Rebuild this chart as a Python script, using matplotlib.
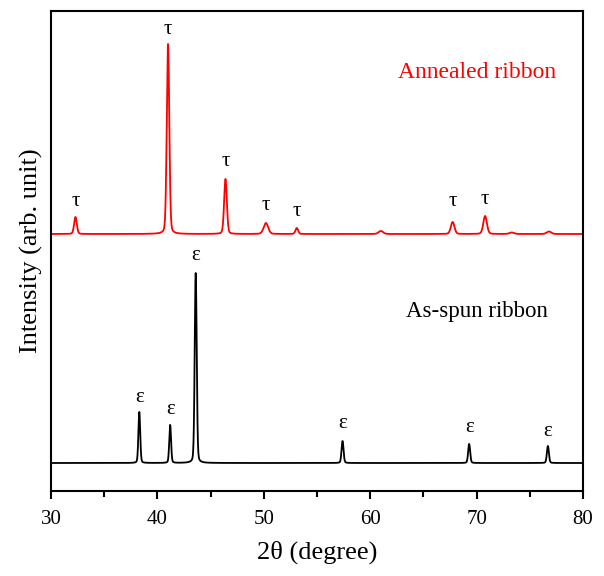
import numpy as np
from matplotlib import pyplot as plt
from matplotlib.ticker import MultipleLocator

plt.rcParams['font.family'] = ['Liberation Serif', 'DejaVu Serif']

# peak lists (2theta, height above baseline, fwhm)
annealed_pos = [32.3, 41.0, 46.4, 50.2, 53.1, 61.0, 67.75, 70.8, 73.3, 76.8]
annealed_h = [17, 190, 55, 11, 6, 3, 12, 18, 1.5, 2.5]
annealed_w = [0.3, 0.28, 0.3, 0.5, 0.3, 0.5, 0.4, 0.4, 0.5, 0.5]
annealed_base = 257

spun_pos = [38.3, 41.2, 43.6, 57.4, 69.3, 76.7]
spun_h = [51, 38, 190, 22, 19, 17]
spun_w = [0.2, 0.2, 0.22, 0.22, 0.22, 0.22]
spun_base = 28

tau_x = [32.3, 41.0, 46.4, 50.2, 53.1, 67.75, 70.8]
tau_y = [289, 462, 329, 286, 279, 289, 292]
eps_x = [38.3, 41.2, 43.6, 57.4, 69.3, 76.7]
eps_y = [93, 81, 235, 67, 63, 60]


def pattern(x, pos, h, w, base):
    y = np.full_like(x, base, dtype=float)
    for p, a, f in zip(pos, h, w):
        g = np.exp(-4 * np.log(2) * ((x - p) / f) ** 2)
        lor = 1 / (1 + 4 * ((x - p) / f) ** 2)
        y += a * (0.8 * g + 0.2 * lor)
    return y


x = np.linspace(30, 80, 5001)

fig = plt.figure(figsize=(6.04, 5.76), dpi=100)
ax = fig.add_axes([51 / 604, 1 - 491 / 576, 532 / 604, 480 / 576])

ax.plot(x, pattern(x, annealed_pos, annealed_h, annealed_w, annealed_base), color='red', lw=1.3)
ax.plot(x, pattern(x, spun_pos, spun_h, spun_w, spun_base), color='black', lw=1.3)

for tx, ty in zip(tau_x, tau_y):
    ax.text(tx, ty, 'τ', ha='center', va='center', fontsize=15)
for ex, ey in zip(eps_x, eps_y):
    ax.text(ex, ey, 'ε', ha='center', va='center', fontsize=15)

ax.text(70, 419, 'Annealed ribbon', color='red', ha='center', va='center', fontsize=17)
ax.text(70, 179, 'As-spun ribbon', color='black', ha='center', va='center', fontsize=16.5)

ax.set_xlim(30, 80)
ax.set_ylim(0, 480)
ax.xaxis.set_major_locator(MultipleLocator(10))
ax.xaxis.set_minor_locator(MultipleLocator(5))
ax.tick_params(axis='x', which='major', direction='out', length=6, width=1.5, labelsize=15, pad=8)
ax.tick_params(axis='x', which='minor', direction='out', length=4, width=1.5)
ax.set_yticks([])
for s in ax.spines.values():
    s.set_linewidth(1.5)

ax.set_xlabel('2θ (degree)', fontsize=19, labelpad=8)
ax.set_ylabel('Intensity (arb. unit)', fontsize=19, labelpad=6)

fig.savefig('out.png', dpi=100)
